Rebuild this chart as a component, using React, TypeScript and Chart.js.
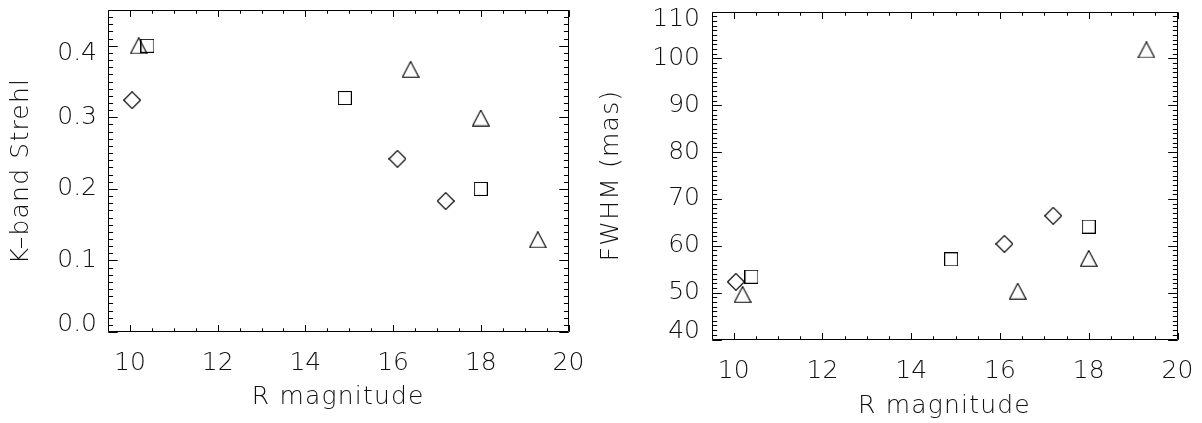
import React, { useEffect, useRef } from 'react';
import { Chart, registerables } from 'chart.js';

Chart.register(...registerables);

// ---- data ----
const diamondR = [10.05, 16.1, 17.2];
const diamondStrehl = [0.324, 0.242, 0.183];
const diamondFwhm = [52.3, 60.4, 66.4];

const squareR = [10.4, 14.9, 18.0];
const squareStrehl = [0.4, 0.327, 0.2];
const squareFwhm = [53.4, 57.1, 64.1];

const triangleR = [10.2, 16.4, 18.0, 19.3];
const triangleStrehl = [0.4, 0.367, 0.299, 0.129];
const triangleFwhm = [49.6, 50.3, 57.3, 101.8];

// ---- axes ----
const xTicks = [10, 12, 14, 16, 18, 20];
const strehlTicks = [0.0, 0.1, 0.2, 0.3, 0.4];
const fwhmTicks = [40, 50, 60, 70, 80, 90, 100, 110];
const xRange = [9.5, 20];
const strehlRange = [0, 0.45];
const fwhmRange = [40, 110];
const xMinorStep = 0.5;
const strehlMinorStep = 0.01;
const fwhmMinorStep = 1;

const xTitle = 'R magnitude';
const strehlTitle = 'K–band Strehl';
const fwhmTitle = 'FWHM (mas)';

const INK = '#000';
const TEXT = '#111';
const FONT_FAMILY = '"DejaVu Sans", sans-serif';
const TITLE_SPACING = '1.2px';
const END_SHIFT = 8;

function makeMarker(kind: string): HTMLCanvasElement {
  const c = document.createElement('canvas');
  let w = 14, h = 14;
  if (kind === 'triangle') { w = 18; h = 17; }
  if (kind === 'diamond') { w = 18; h = 18; }
  c.width = w; c.height = h;
  const g = c.getContext('2d')!;
  g.strokeStyle = INK;
  g.lineWidth = 1.15;
  g.beginPath();
  if (kind === 'square') {
    g.rect(0.5, 0.5, 13, 13);
  } else if (kind === 'triangle') {
    g.moveTo(0.8, 16.2);
    g.lineTo(9, 0.6);
    g.lineTo(17.2, 16.2);
    g.closePath();
  } else {
    g.moveTo(9, 0.6);
    g.lineTo(17.4, 9);
    g.lineTo(9, 17.4);
    g.lineTo(0.6, 9);
    g.closePath();
  }
  g.stroke();
  return c;
}

function minorValues(min: number, max: number, step: number): number[] {
  const out: number[] = [];
  const n0 = Math.ceil(min / step - 1e-9);
  const n1 = Math.floor(max / step + 1e-9);
  for (let n = n0; n <= n1; n++) out.push(n * step);
  return out;
}

const frameTicks = {
  id: 'frameTicks',
  afterDraw(chart: any) {
    const cfg = chart.options.plugins.frameTicks;
    const { ctx, chartArea: a } = chart;
    const xs = chart.scales.x;
    const ys = chart.scales.y;
    const w = a.right - a.left;
    const h = a.bottom - a.top;
    const xMaj = 0.02 * h;
    const yMaj = 0.02 * w;
    ctx.save();
    ctx.strokeStyle = INK;
    ctx.lineWidth = 1;
    ctx.beginPath();
    const L = Math.round(a.left) + 0.5, R = Math.round(a.right) - 0.5;
    const T = Math.round(a.top) + 0.5, B = Math.round(a.bottom) - 0.5;
    ctx.rect(L, T, R - L, B - T);
    const vx = (v: number, len: number) => {
      const p = Math.round(xs.getPixelForValue(v)) + 0.5;
      ctx.moveTo(p, B); ctx.lineTo(p, B - len);
      ctx.moveTo(p, T); ctx.lineTo(p, T + len);
    };
    const vy = (v: number, len: number) => {
      const p = Math.round(ys.getPixelForValue(v)) + 0.5;
      ctx.moveTo(L, p); ctx.lineTo(L + len, p);
      ctx.moveTo(R, p); ctx.lineTo(R - len, p);
    };
    minorValues(xs.min, xs.max, cfg.xMinor).forEach((v) => vx(v, xMaj / 2));
    cfg.xMajor.forEach((v: number) => vx(v, xMaj));
    minorValues(ys.min, ys.max, cfg.yMinor).forEach((v) => vy(v, yMaj / 2));
    cfg.yMajor.forEach((v: number) => vy(v, yMaj));
    ctx.stroke();
    ctx.restore();
  },
};

function patchScale(s: any, shiftEnds: boolean) {
  if (s.__patched) return;
  s.__patched = true;
  const origTitle = s.drawTitle.bind(s);
  s.drawTitle = function () {
    const ctx = s.ctx;
    const prev = ctx.letterSpacing;
    ctx.letterSpacing = TITLE_SPACING;
    origTitle();
    ctx.letterSpacing = prev || '0px';
  };
  if (shiftEnds) {
    const origItems = s._computeLabelItems.bind(s);
    s._computeLabelItems = function (area: any) {
      const items = origItems(area);
      if (items.length > 1) {
        items[0].options.translation[1] -= END_SHIFT;
        items[items.length - 1].options.translation[1] += END_SHIFT;
      }
      return items;
    };
  }
}

type PanelSpec = {
  width: number;
  yValues: { d: number[]; s: number[]; t: number[] };
  yRange: number[];
  yTicks: number[];
  yMinor: number;
  yTitle: string;
  yDecimals: number;
  plotLeft: number;
  plotRight: number;
  plotTop: number;
  plotBottom: number;
  yLabelPad: number;
  xLabelPad: number;
  xTitlePad: number;
  yTitlePad: number;
};

function Panel({ spec, left }: { spec: PanelSpec; left: number }) {
  const ref = useRef<HTMLCanvasElement | null>(null);
  useEffect(() => {
    const canvas = ref.current!;
    const diamond = makeMarker('diamond');
    const square = makeMarker('square');
    const triangle = makeMarker('triangle');
    const H = 423;
    const tickFont = { family: FONT_FAMILY, size: 25, weight: '200', lineHeight: 1.2 };
    const titleFont = { family: FONT_FAMILY, size: 25, weight: '200', lineHeight: 1.2 };
    const mk = (xs: number[], ys: number[], img: HTMLCanvasElement) => ({
      data: xs.map((x, i) => ({ x, y: ys[i] })),
      pointStyle: img,
      pointRadius: 9,
      pointHoverRadius: 9,
      showLine: false,
    });
    const chart = new Chart(canvas, {
      type: 'scatter',
      data: {
        datasets: [
          mk(diamondR, spec.yValues.d, diamond),
          mk(squareR, spec.yValues.s, square),
          mk(triangleR, spec.yValues.t, triangle),
        ],
      },
      options: {
        animation: false,
        responsive: false,
        devicePixelRatio: 1,
        events: [],
        layout: {
          padding: {
            left: 0,
            right: spec.width - spec.plotRight,
            top: spec.plotTop,
            bottom: 0,
          },
        },
        plugins: {
          legend: { display: false },
          tooltip: { enabled: false },
          frameTicks: {
            xMajor: xTicks,
            xMinor: xMinorStep,
            yMajor: spec.yTicks,
            yMinor: spec.yMinor,
          },
        } as any,
        scales: {
          x: {
            type: 'linear',
            min: xRange[0],
            max: xRange[1],
            grid: { display: false, drawTicks: false },
            border: { display: false },
            afterBuildTicks: (s: any) => {
              s.ticks = xTicks.map((v) => ({ value: v }));
            },
            afterFit: (s: any) => {
              s.height = H - spec.plotBottom;
              s.paddingLeft = 0;
              s.paddingRight = 0;
              patchScale(s, false);
            },
            ticks: {
              padding: spec.xLabelPad,
              color: TEXT,
              font: tickFont,
              maxRotation: 0,
              autoSkip: false,
              callback: (v: any) => String(v),
            },
            title: {
              display: true,
              text: xTitle,
              color: TEXT,
              font: titleFont,
              padding: { top: 0, bottom: spec.xTitlePad },
            },
          },
          y: {
            type: 'linear',
            min: spec.yRange[0],
            max: spec.yRange[1],
            grid: { display: false, drawTicks: false },
            border: { display: false },
            afterBuildTicks: (s: any) => {
              s.ticks = spec.yTicks.map((v) => ({ value: v }));
            },
            afterFit: (s: any) => {
              s.width = spec.plotLeft;
              s.paddingTop = 0;
              s.paddingBottom = 0;
              patchScale(s, true);
            },
            ticks: {
              padding: spec.yLabelPad,
              color: TEXT,
              font: tickFont,
              autoSkip: false,
              callback: (v: any) => Number(v).toFixed(spec.yDecimals),
            },
            title: {
              display: true,
              text: spec.yTitle,
              color: TEXT,
              font: titleFont,
              padding: { top: spec.yTitlePad, bottom: 0 },
            },
          },
        },
      } as any,
      plugins: [frameTicks as any],
    });
    return () => chart.destroy();
  }, [spec]);
  return (
    <div style={{ position: 'absolute', left, top: 0, width: spec.width, height: 423 }}>
      <canvas ref={ref} width={spec.width} height={423} style={{ display: 'block' }} />
    </div>
  );
}

const leftSpec: PanelSpec = {
  width: 590,
  yValues: { d: diamondStrehl, s: squareStrehl, t: triangleStrehl },
  yRange: strehlRange,
  yTicks: strehlTicks,
  yMinor: strehlMinorStep,
  yTitle: strehlTitle,
  yDecimals: 1,
  plotLeft: 108,
  plotRight: 568.5,
  plotTop: 8.5,
  plotBottom: 332,
  yLabelPad: 11,
  xLabelPad: 16,
  xTitlePad: 11,
  yTitlePad: 6,
};

const rightSpec: PanelSpec = {
  width: 612,
  yValues: { d: diamondFwhm, s: squareFwhm, t: triangleFwhm },
  yRange: fwhmRange,
  yTicks: fwhmTicks,
  yMinor: fwhmMinorStep,
  yTitle: fwhmTitle,
  yDecimals: 0,
  plotLeft: 121.5,
  plotRight: 587.5,
  plotTop: 11.5,
  plotBottom: 339.5,
  yLabelPad: 11.5,
  xLabelPad: 16.5,
  xTitlePad: 2,
  yTitlePad: 6,
};

export default function App() {
  return (
    <div style={{ position: 'absolute', left: 0, top: 0, width: 1202, height: 423, background: '#fff', overflow: 'hidden' }}>
      <Panel spec={leftSpec} left={0} />
      <Panel spec={rightSpec} left={590} />
    </div>
  );
}
